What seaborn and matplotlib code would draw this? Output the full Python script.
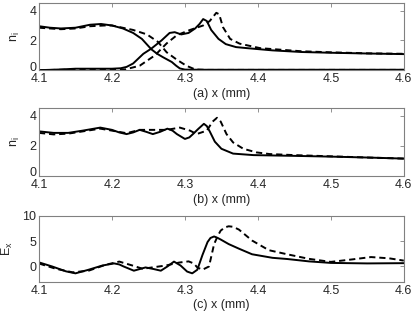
import numpy as np
import pandas as pd
import seaborn as sns
import matplotlib
matplotlib.use("Agg")
import matplotlib.pyplot as plt
from matplotlib.transforms import ScaledTranslation

# panel (a): two ion species, solid and dashed runs
a_hi_solid_x = [4.10, 4.115, 4.13, 4.15, 4.17, 4.185, 4.20, 4.215, 4.229, 4.241, 4.254, 4.262, 4.27, 4.282, 4.288, 4.293, 4.30, 4.32, 4.40, 4.50, 4.60]
a_hi_solid_y = [2.95, 2.85, 2.80, 2.85, 3.05, 3.10, 3.00, 2.80, 2.50, 2.10, 1.40, 1.10, 0.87, 0.55, 0.30, 0.12, 0.04, 0.03, 0.03, 0.03, 0.03]
a_lo_solid_x = [4.10, 4.13, 4.15, 4.20, 4.212, 4.22, 4.229, 4.243, 4.254, 4.268, 4.279, 4.286, 4.295, 4.305, 4.314, 4.320, 4.325, 4.33, 4.336, 4.346, 4.356, 4.37, 4.385, 4.42, 4.46, 4.50, 4.55, 4.60]
a_lo_solid_y = [0.00, 0.05, 0.10, 0.10, 0.13, 0.22, 0.45, 1.10, 1.45, 2.00, 2.50, 2.55, 2.40, 2.50, 2.80, 3.10, 3.43, 3.30, 2.70, 2.10, 1.75, 1.55, 1.48, 1.33, 1.22, 1.17, 1.12, 1.08]
a_hi_dash_x = [4.10, 4.13, 4.15, 4.17, 4.19, 4.20, 4.229, 4.248, 4.263, 4.275, 4.289, 4.302, 4.314, 4.33, 4.40, 4.50, 4.60]
a_hi_dash_y = [2.85, 2.75, 2.80, 2.95, 3.00, 3.00, 2.70, 2.40, 1.90, 1.20, 0.70, 0.30, 0.05, 0.02, 0.02, 0.02, 0.02]
a_lo_dash_x = [4.10, 4.15, 4.20, 4.218, 4.238, 4.259, 4.275, 4.289, 4.307, 4.325, 4.334, 4.343, 4.347, 4.352, 4.362, 4.375, 4.403, 4.43, 4.46, 4.50, 4.55, 4.60]
a_lo_dash_y = [0.00, 0.05, 0.05, 0.05, 0.30, 1.00, 1.80, 2.35, 2.70, 3.00, 3.30, 3.85, 3.75, 2.90, 2.10, 1.78, 1.48, 1.38, 1.27, 1.20, 1.13, 1.10]

# panel (b): total ion density
b_solid_x = [4.10, 4.12, 4.14, 4.16, 4.184, 4.20, 4.21, 4.22, 4.229, 4.238, 4.247, 4.256, 4.266, 4.276, 4.283, 4.289, 4.30, 4.306, 4.311, 4.318, 4.326, 4.33, 4.334, 4.341, 4.35, 4.366, 4.394, 4.45, 4.50, 4.55, 4.60]
b_solid_y = [2.95, 2.85, 2.85, 3.00, 3.20, 3.05, 2.88, 2.77, 2.88, 3.05, 2.92, 2.77, 2.92, 3.13, 3.00, 2.77, 2.45, 2.55, 2.77, 3.10, 3.45, 3.30, 2.95, 2.27, 1.80, 1.48, 1.38, 1.33, 1.28, 1.22, 1.15]
b_dash_x = [4.10, 4.12, 4.14, 4.16, 4.184, 4.20, 4.22, 4.238, 4.256, 4.275, 4.293, 4.307, 4.316, 4.33, 4.338, 4.344, 4.349, 4.357, 4.366, 4.38, 4.398, 4.416, 4.45, 4.50, 4.55, 4.60]
b_dash_y = [2.85, 2.75, 2.80, 2.95, 3.13, 3.00, 2.83, 3.05, 3.05, 3.05, 3.20, 3.00, 2.77, 3.00, 3.60, 3.85, 3.60, 2.77, 2.22, 1.80, 1.56, 1.45, 1.38, 1.30, 1.22, 1.15]

# panel (c): electric field
c_solid_x = [4.10, 4.118, 4.137, 4.15, 4.168, 4.187, 4.203, 4.21, 4.216, 4.23, 4.246, 4.257, 4.267, 4.276, 4.285, 4.294, 4.303, 4.31, 4.317, 4.324, 4.331, 4.335, 4.34, 4.345, 4.349, 4.36, 4.374, 4.392, 4.42, 4.44, 4.47, 4.50, 4.55, 4.60]
c_solid_y = [0.8, 0.0, -0.96, -1.35, -0.64, 0.19, 0.6, 0.4, 0.0, -0.83, -0.19, -0.5, -0.83, 0.0, 0.96, 0.19, -1.0, -1.35, -0.64, 2.24, 4.8, 5.6, 5.9, 5.6, 5.3, 4.4, 3.5, 2.4, 1.7, 1.47, 1.0, 0.7, 0.6, 0.65]
c_dash_x = [4.10, 4.123, 4.146, 4.168, 4.191, 4.21, 4.228, 4.242, 4.255, 4.274, 4.292, 4.305, 4.312, 4.317, 4.324, 4.333, 4.34, 4.345, 4.349, 4.355, 4.36, 4.366, 4.374, 4.392, 4.415, 4.44, 4.47, 4.50, 4.53, 4.555, 4.58, 4.60]
c_dash_y = [0.58, -0.45, -1.15, -0.83, 0.32, 0.96, 0.19, -0.45, -0.19, 0.19, 0.77, 1.0, 0.6, -0.19, -0.64, 0.0, 4.4, 6.0, 7.05, 7.7, 7.9, 7.8, 7.25, 5.1, 3.2, 2.4, 1.5, 0.9, 1.4, 1.85, 1.6, 1.15]

sns.set_style("white")
plt.rcParams['font.family'] = ['Liberation Sans', 'DejaVu Sans']
plt.rcParams['font.size'] = 9
plt.rcParams['mathtext.default'] = 'regular'

fig = plt.figure(figsize=(4.15, 3.12), dpi=100)
ax_a = fig.add_axes([0.094, 0.775, 0.879, 0.215])
ax_b = fig.add_axes([0.094, 0.436, 0.879, 0.218])
ax_c = fig.add_axes([0.094, 0.097, 0.879, 0.212])

lw = 1.4
def draw(ax, xs, ys, dashed):
    sns.lineplot(x=xs, y=ys, ax=ax, color='k', lw=lw, estimator=None,
                 linestyle=(0, (3.2, 2.0)) if dashed else '-')

draw(ax_a, a_hi_dash_x, a_hi_dash_y, True)
draw(ax_a, a_lo_dash_x, a_lo_dash_y, True)
draw(ax_a, a_hi_solid_x, a_hi_solid_y, False)
draw(ax_a, a_lo_solid_x, a_lo_solid_y, False)
draw(ax_b, b_dash_x, b_dash_y, True)
draw(ax_b, b_solid_x, b_solid_y, False)
draw(ax_c, c_dash_x, c_dash_y, True)
draw(ax_c, c_solid_x, c_solid_y, False)

for ax, lab, yl, yt, ylab in [(ax_a, '(a) x (mm)', (0, 4.5), [0, 2, 4], '$n_i$'),
                              (ax_b, '(b) x (mm)', (0, 4.5), [0, 2, 4], '$n_i$'),
                              (ax_c, '(c) x (mm)', (-3, 10), [0, 5, 10], '$E_x$')]:
    ax.set_xlim(4.1, 4.6)
    ax.set_ylim(*yl)
    ax.set_xticks([4.1, 4.2, 4.3, 4.4, 4.5, 4.6])
    ax.set_xticklabels(['4.1', '4.2', '4.3', '4.4', '4.5', '4.6'])
    ax.set_yticks(yt)
    ax.set_xlabel(lab, labelpad=2)
    ax.set_ylabel(ylab, labelpad=5)
    ax.tick_params(direction='in', length=3, width=0.6, color='#808080',
                   top=True, right=True, labelsize=9)
    ax.tick_params(axis='x', pad=2)
    ax.tick_params(axis='y', pad=2)
    for s in ax.spines.values():
        s.set_color('#808080')
        s.set_linewidth(0.8)

# lift the "0" labels a bit so they sit just above "4.1"
for ax in (ax_a, ax_b):
    lbl = ax.get_yticklabels()[0]
    lbl.set_transform(lbl.get_transform() + ScaledTranslation(0, 3 / 72, fig.dpi_scale_trans))

fig.savefig('out.png', dpi=100)
